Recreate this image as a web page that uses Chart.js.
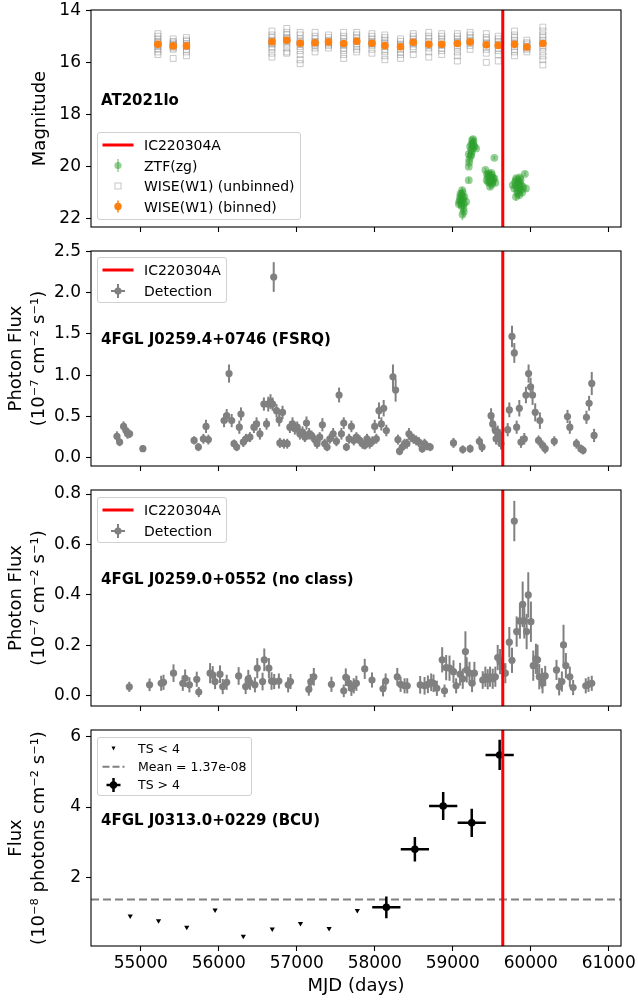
<!DOCTYPE html>
<html>
<head>
<meta charset="utf-8">
<title>AT2021lo and Fermi sources around IC220304A</title>
<script src="https://cdn.jsdelivr.net/npm/chart.js@4.4.1/dist/chart.umd.min.js"></script>
<style>
  html, body { margin: 0; padding: 0; background: #fff; }
  #page { position: relative; width: 638px; height: 1003px; overflow: hidden; font-family: "DejaVu Sans", sans-serif; color: #000; }
  #page canvas { position: absolute; left: 0; }
  .tag { position: absolute; left: 101px; font-size: 15px; font-weight: bold; line-height: 18px; white-space: nowrap; }
  .legend { position: absolute; left: 97px; background: rgba(255,255,255,0.8); border: 1px solid #d0d0d0; border-radius: 3px; box-sizing: border-box; }
  .legend .row { position: absolute; left: 46px; height: 16px; line-height: 16px; font-size: 14px; white-space: nowrap; }
  .legend svg { position: absolute; left: 0; overflow: visible; }
  .legend.small .row { left: 40px; height: 14px; line-height: 14px; font-size: 12.5px; }
</style>
</head>
<body>
<div id="page">
  <canvas id="c1" width="638" height="240" style="top:0"></canvas>
  <canvas id="c2" width="638" height="240" style="top:240px"></canvas>
  <canvas id="c3" width="638" height="240" style="top:480px"></canvas>
  <canvas id="c4" width="638" height="283" style="top:720px"></canvas>

  <div class="tag" style="top:91px">AT2021lo</div>
  <div class="tag" style="top:330px">4FGL J0259.4+0746 (FSRQ)</div>
  <div class="tag" style="top:570px">4FGL J0259.0+0552 (no class)</div>
  <div class="tag" style="top:811px">4FGL J0313.0+0229 (BCU)</div>

  <div class="legend" style="top:132px;width:204px;height:88px">
    <svg width="40" height="88">
      <line x1="4.5" y1="12" x2="35.5" y2="12" stroke="#ff0000" stroke-width="3"/>
      <line x1="20" y1="26" x2="20" y2="39" stroke="rgba(44,160,44,0.5)" stroke-width="1.5"/>
      <circle cx="20" cy="32.5" r="3.6" fill="rgba(44,160,44,0.5)"/>
      <rect x="17" y="50" width="6" height="6" fill="none" stroke="rgba(128,128,128,0.45)"/>
      <line x1="20" y1="67.5" x2="20" y2="79.5" stroke="#ff7f0e" stroke-width="1.5"/>
      <circle cx="20" cy="73.5" r="3.7" fill="#ff7f0e"/>
    </svg>
    <div class="row" style="top:4px">IC220304A</div>
    <div class="row" style="top:24.5px">ZTF(zg)</div>
    <div class="row" style="top:45px">WISE(W1) (unbinned)</div>
    <div class="row" style="top:65.5px">WISE(W1) (binned)</div>
  </div>

  <div class="legend" style="top:257px;width:130px;height:46px">
    <svg width="40" height="46">
      <line x1="4.5" y1="12" x2="35.5" y2="12" stroke="#ff0000" stroke-width="3"/>
      <line x1="20" y1="26" x2="20" y2="40" stroke="#808080" stroke-width="2"/>
      <line x1="13" y1="33" x2="27" y2="33" stroke="#808080" stroke-width="2"/>
      <circle cx="20" cy="33" r="3.6" fill="#808080"/>
    </svg>
    <div class="row" style="top:4px">IC220304A</div>
    <div class="row" style="top:25px">Detection</div>
  </div>

  <div class="legend" style="top:497px;width:130px;height:46px">
    <svg width="40" height="46">
      <line x1="4.5" y1="12" x2="35.5" y2="12" stroke="#ff0000" stroke-width="3"/>
      <line x1="20" y1="26" x2="20" y2="40" stroke="#808080" stroke-width="2"/>
      <line x1="13" y1="33" x2="27" y2="33" stroke="#808080" stroke-width="2"/>
      <circle cx="20" cy="33" r="3.6" fill="#808080"/>
    </svg>
    <div class="row" style="top:4px">IC220304A</div>
    <div class="row" style="top:25px">Detection</div>
  </div>

  <div class="legend small" style="top:737px;width:155px;height:59px">
    <svg width="40" height="59">
      <polygon points="13.5,8.5 17.5,8.5 15.5,12.5" fill="#000"/>
      <line x1="4.5" y1="28.7" x2="26.5" y2="28.7" stroke="#808080" stroke-width="2" stroke-dasharray="7,3"/>
      <line x1="15.5" y1="40" x2="15.5" y2="54" stroke="#000" stroke-width="2.5"/>
      <line x1="8.5" y1="47" x2="22.5" y2="47" stroke="#000" stroke-width="2.5"/>
      <circle cx="15.5" cy="47" r="3.7" fill="#000"/>
    </svg>
    <div class="row" style="top:3.7px">TS &lt; 4</div>
    <div class="row" style="top:21.7px">Mean = 1.37e-08</div>
    <div class="row" style="top:40px">TS &gt; 4</div>
  </div>
</div>

<script>
const FONT = "'DejaVu Sans', sans-serif";

// shared time axis
const X_MIN = 54362;
const X_MAX = 61158;
const X_TICKS = [55000, 56000, 57000, 58000, 59000, 60000, 61000];
const IC_MJD = 59642; // IC220304A

// panel 1: AT2021lo optical / IR
const Y1_MIN = 13.99, Y1_MAX = 22.33;
const Y1_TICKS = [14, 16, 18, 20, 22];

const ZTF_MJD = [59121, 59095, 59129, 59108, 59078, 59138, 59150, 59121, 59142, 59095, 59172,
  59100, 59115, 59132, 59085, 59145, 59125, 59112,
  59206, 59206, 59214, 59206, 59236, 59223, 59257, 59278, 59249, 59266, 59300, 59236,
  59210, 59240, 59255, 59270, 59245, 59230, 59262,
  59534,
  59419, 59462, 59492, 59513, 59470, 59436, 59534, 59547, 59479, 59504, 59449,
  59440, 59455, 59485, 59500, 59520, 59465, 59495, 59510,
  59811, 59841, 59875, 59790, 59833, 59854, 59897, 59939, 59926, 59862, 59811, 59769,
  59800, 59820, 59845, 59860, 59880, 59830, 59815, 59870, 59890];
const ZTF_MAG = [21.29, 21.17, 21.01, 21.42, 21.45, 21.62, 21.17, 20.91, 21.74, 21.29, 21.36,
  21.05, 21.50, 21.20, 21.35, 21.45, 21.85, 21.10,
  20.53, 20.01, 19.73, 19.53, 19.37, 19.24, 19.12, 19.24, 18.99, 19.05, 19.31, 19.56,
  19.85, 19.15, 19.30, 19.20, 19.45, 19.60, 18.95,
  19.67,
  20.14, 20.27, 20.40, 20.53, 20.63, 20.53, 20.46, 20.63, 20.78, 20.33, 20.40,
  20.30, 20.60, 20.55, 20.70, 20.45, 20.35, 20.25, 20.60,
  20.53, 20.63, 20.72, 20.85, 20.94, 21.10, 20.78, 20.85, 20.29, 20.42, 21.17, 20.72,
  20.60, 20.75, 20.85, 20.60, 20.90, 21.05, 20.45, 20.50, 21.00];
const ZTF_ERR = [0.15, 0.14, 0.12, 0.18, 0.18, 0.20, 0.14, 0.12, 0.22, 0.15, 0.16,
  0.13, 0.18, 0.14, 0.16, 0.18, 0.22, 0.13,
  0.10, 0.08, 0.07, 0.07, 0.06, 0.06, 0.06, 0.06, 0.05, 0.06, 0.06, 0.07,
  0.08, 0.06, 0.06, 0.06, 0.07, 0.07, 0.05,
  0.07,
  0.08, 0.08, 0.09, 0.10, 0.10, 0.10, 0.09, 0.10, 0.11, 0.09, 0.09,
  0.08, 0.10, 0.10, 0.11, 0.09, 0.09, 0.08, 0.10,
  0.10, 0.10, 0.11, 0.12, 0.13, 0.15, 0.11, 0.12, 0.08, 0.09, 0.15, 0.11,
  0.10, 0.11, 0.12, 0.10, 0.13, 0.14, 0.09, 0.10, 0.14];

const WISE_MJD = [55220, 55416, 55586, 56682, 56873, 57044, 57235, 57407, 57602, 57769, 57964,
  58130, 58331, 58494, 58693, 58859, 59060, 59223, 59431, 59584, 59793, 59951, 60156];
const WISE_BIN = [15.31, 15.37, 15.37, 15.21, 15.15, 15.27, 15.25, 15.22, 15.28, 15.19, 15.27,
  15.36, 15.40, 15.23, 15.31, 15.31, 15.28, 15.22, 15.33, 15.35, 15.31, 15.41, 15.28];
const WISE_BIN_ERR = [0.04, 0.04, 0.04, 0.03, 0.03, 0.04, 0.03, 0.03, 0.04, 0.03, 0.03,
  0.04, 0.04, 0.03, 0.04, 0.03, 0.04, 0.03, 0.04, 0.04, 0.04, 0.03, 0.05];
const WISE_UNBIN = [
  [14.9, 15.0, 15.1, 15.2, 15.25, 15.3, 15.35, 15.4, 15.5, 15.6, 15.7],
  [15.1, 15.2, 15.25, 15.3, 15.35, 15.4, 15.45, 15.5, 15.85],
  [15.05, 15.15, 15.2, 15.3, 15.35, 15.4, 15.5, 15.6, 15.75],
  [14.8, 14.95, 15.05, 15.15, 15.2, 15.25, 15.3, 15.4, 15.5, 15.65, 15.8],
  [14.7, 14.85, 14.95, 15.05, 15.1, 15.15, 15.2, 15.3, 15.45, 15.6, 15.65],
  [14.85, 14.95, 15.1, 15.2, 15.25, 15.3, 15.4, 15.55, 15.7, 15.9, 16.05],
  [14.85, 15.0, 15.1, 15.2, 15.25, 15.3, 15.35, 15.45, 15.6],
  [14.95, 15.05, 15.15, 15.2, 15.25, 15.3, 15.35, 15.45],
  [14.85, 15.0, 15.1, 15.2, 15.3, 15.35, 15.45, 15.55, 15.7, 15.85],
  [14.85, 14.95, 15.05, 15.15, 15.2, 15.3, 15.4, 15.5, 15.6],
  [14.9, 15.0, 15.1, 15.2, 15.25, 15.3, 15.35, 15.5, 15.65],
  [14.95, 15.05, 15.15, 15.25, 15.3, 15.4, 15.5, 15.6, 15.75, 15.9],
  [15.1, 15.2, 15.3, 15.35, 15.4, 15.5, 15.6, 15.7, 15.85],
  [14.9, 15.0, 15.1, 15.2, 15.25, 15.3, 15.4, 15.5, 15.7],
  [14.85, 15.0, 15.1, 15.2, 15.3, 15.35, 15.45, 15.6, 15.8],
  [14.9, 15.0, 15.1, 15.2, 15.3, 15.35, 15.45, 15.55, 15.7],
  [14.9, 15.0, 15.1, 15.2, 15.25, 15.35, 15.45, 15.6, 15.75, 15.95],
  [14.85, 14.95, 15.05, 15.15, 15.2, 15.25, 15.35, 15.5],
  [14.9, 15.05, 15.15, 15.25, 15.3, 15.4, 15.5, 15.65, 16.0],
  [15.0, 15.1, 15.2, 15.3, 15.35, 15.45, 15.55, 15.7, 15.95],
  [14.8, 14.95, 15.05, 15.15, 15.25, 15.3, 15.4, 15.5, 15.6, 15.75],
  [15.15, 15.25, 15.3, 15.4, 15.45, 15.5, 15.6],
  [14.65, 14.8, 14.95, 15.05, 15.15, 15.25, 15.35, 15.45, 15.6, 15.75, 15.9, 16.1],
];

// panel 2: 4FGL J0259.4+0746 (FSRQ), photon flux in 1e-7 cm^-2 s^-1
const Y2_MIN = -0.1, Y2_MAX = 2.505;
const Y2_TICKS = [0, 0.5, 1.0, 1.5, 2.0, 2.5];
const FSRQ_MJD = [54695, 54729, 54780, 54810, 54831, 54857, 55027, 55684, 55739, 55803,
  55837, 55867, 56068, 56102, 56132, 56166, 56196, 56230, 56264, 56285,
  56315, 56349, 56400, 56451, 56485, 56528, 56579, 56613, 56635, 56664,
  56690, 56705, 56741, 56775, 56784, 56818, 56835, 56878, 56912, 56946,
  56976, 57006, 57040, 57074, 57104, 57125, 57159, 57189, 57231, 57261,
  57295, 57329, 57359, 57389, 57424, 57467, 57509, 57543, 57573, 57603,
  57637, 57671, 57701, 57731, 57765, 57808, 57842, 57872, 57901, 57936,
  57970, 58000, 58021, 58055, 58085, 58115, 58149, 58234, 58268, 58298,
  58319, 58353, 58383, 58413, 58439, 58468, 58498, 58532, 58566, 58609,
  58639, 58669, 58711, 59010, 59129, 59223, 59342, 59376, 59492, 59513,
  59547, 59556, 59577, 59598, 59619, 59705, 59726, 59760, 59790, 59820,
  59854, 59875, 59918, 59939, 59973, 59999, 60024, 60058, 60101, 60118,
  60152, 60186, 60302, 60472, 60502, 60587, 60643, 60672, 60715, 60749,
  60783, 60813];
const FSRQ_FLUX = [0.26, 0.19, 0.38, 0.33, 0.29, 0.29, 0.11, 0.21, 0.13, 0.23,
  0.38, 0.22, 0.45, 0.51, 1.02, 0.45, 0.17, 0.13, 0.37, 0.53,
  0.19, 0.23, 0.25, 0.37, 0.41, 0.29, 0.65, 0.41, 0.65, 0.68,
  0.65, 2.19, 0.57, 0.46, 0.18, 0.55, 0.17, 0.17, 0.37, 0.41,
  0.35, 0.37, 0.29, 0.31, 0.25, 0.42, 0.29, 0.27, 0.22, 0.17,
  0.25, 0.40, 0.17, 0.13, 0.23, 0.29, 0.20, 0.76, 0.29, 0.42,
  0.13, 0.23, 0.38, 0.21, 0.25, 0.21, 0.17, 0.15, 0.23, 0.17,
  0.20, 0.38, 0.23, 0.57, 0.41, 0.60, 0.33, 0.98, 0.82, 0.22,
  0.08, 0.13, 0.17, 0.17, 0.29, 0.25, 0.23, 0.21, 0.19, 0.11,
  0.17, 0.14, 0.13, 0.18, 0.10, 0.11, 0.20, 0.13, 0.51, 0.41,
  0.33, 0.23, 0.31, 0.27, 0.17, 0.34, 0.58, 1.47, 1.27, 0.37,
  0.60, 0.19, 0.23, 0.76, 1.02, 0.86, 0.76, 0.55, 0.21, 0.45,
  0.15, 0.11, 0.20, 0.50, 0.37, 0.17, 0.11, 0.09, 0.49, 0.66,
  0.90, 0.27];
const FSRQ_ERR = [0.06, 0.05, 0.06, 0.06, 0.06, 0.05, 0.04, 0.05, 0.05, 0.06,
  0.08, 0.06, 0.08, 0.08, 0.11, 0.08, 0.05, 0.05, 0.08, 0.08,
  0.06, 0.06, 0.06, 0.07, 0.08, 0.07, 0.08, 0.07, 0.09, 0.09,
  0.08, 0.18, 0.08, 0.08, 0.06, 0.08, 0.06, 0.06, 0.07, 0.08,
  0.07, 0.07, 0.07, 0.07, 0.06, 0.08, 0.07, 0.06, 0.06, 0.06,
  0.06, 0.08, 0.06, 0.05, 0.06, 0.07, 0.06, 0.09, 0.07, 0.07,
  0.05, 0.06, 0.07, 0.06, 0.06, 0.06, 0.06, 0.05, 0.06, 0.06,
  0.06, 0.08, 0.06, 0.10, 0.08, 0.10, 0.07, 0.15, 0.14, 0.06,
  0.05, 0.05, 0.06, 0.06, 0.07, 0.06, 0.06, 0.06, 0.06, 0.05,
  0.06, 0.05, 0.05, 0.06, 0.05, 0.05, 0.06, 0.06, 0.09, 0.08,
  0.08, 0.07, 0.08, 0.08, 0.07, 0.08, 0.09, 0.13, 0.12, 0.08,
  0.10, 0.07, 0.07, 0.10, 0.11, 0.11, 0.12, 0.11, 0.06, 0.10,
  0.06, 0.06, 0.06, 0.08, 0.08, 0.06, 0.05, 0.05, 0.08, 0.09,
  0.14, 0.08];

// panel 3: 4FGL J0259.0+0552 (no class)
const Y3_MIN = -0.04, Y3_MAX = 0.816;
const Y3_TICKS = [0, 0.2, 0.4, 0.6, 0.8];
const NC_MJD = [54853, 55113, 55262, 55292, 55420, 55539, 55569, 55624, 55718, 55744,
  55889, 55923, 55953, 56016, 56051, 56102, 56255, 56345, 56379, 56400,
  56464, 56494, 56562, 56584, 56643, 56677, 56711, 56771, 56890, 56920,
  57155, 57180, 57219, 57445, 57603, 57629, 57671, 57701, 57731, 57765,
  57872, 57965, 58106, 58140, 58289, 58332, 58383, 58417, 58583, 58639,
  58682, 58724, 58754, 58797, 58865, 58895, 58916, 58959, 59010, 59044,
  59095, 59129, 59163, 59180, 59215, 59248, 59278, 59385, 59419, 59449,
  59479, 59513, 59547, 59577, 59607, 59641, 59675, 59726, 59760, 59790,
  59820, 59862, 59897, 59918, 59948, 59969, 60003, 60033, 60067, 60088,
  60110, 60144, 60152, 60186, 60331, 60365, 60400, 60421, 60451, 60502,
  60544, 60706, 60741, 60783];
const NC_FLUX = [0.036, 0.044, 0.050, 0.054, 0.090, 0.050, 0.070, 0.044, 0.066, 0.015,
  0.090, 0.083, 0.057, 0.086, 0.037, 0.054, 0.079, 0.037, 0.068, 0.054,
  0.044, 0.110, 0.057, 0.143, 0.110, 0.059, 0.057, 0.059, 0.044, 0.057,
  0.026, 0.057, 0.076, 0.046, 0.020, 0.074, 0.050, 0.030, 0.040, 0.050,
  0.107, 0.063, 0.028, 0.059, 0.076, 0.046, 0.040, 0.040, 0.044, 0.040,
  0.046, 0.054, 0.050, 0.030, 0.143, 0.020, 0.112, 0.110, 0.096, 0.040,
  0.086, 0.068, 0.176, 0.103, 0.090, 0.050, 0.090, 0.063, 0.076, 0.066,
  0.076, 0.068, 0.076, 0.152, 0.136, 0.116, 0.090, 0.213, 0.141, 0.693,
  0.255, 0.297, 0.363, 0.297, 0.255, 0.400, 0.294, 0.120, 0.147, 0.143,
  0.076, 0.070, 0.050, 0.079, 0.103, 0.037, 0.057, 0.202, 0.120, 0.076,
  0.033, 0.040, 0.046, 0.050];
const NC_ERR = [0.02, 0.025, 0.03, 0.03, 0.035, 0.03, 0.035, 0.03, 0.03, 0.02,
  0.04, 0.035, 0.03, 0.035, 0.03, 0.03, 0.035, 0.03, 0.035, 0.03,
  0.03, 0.04, 0.035, 0.045, 0.04, 0.035, 0.03, 0.03, 0.03, 0.03,
  0.025, 0.03, 0.035, 0.03, 0.025, 0.035, 0.03, 0.03, 0.03, 0.03,
  0.04, 0.03, 0.03, 0.03, 0.035, 0.03, 0.03, 0.03, 0.035, 0.035,
  0.035, 0.035, 0.035, 0.03, 0.05, 0.025, 0.05, 0.05, 0.045, 0.03,
  0.045, 0.04, 0.08, 0.05, 0.045, 0.035, 0.045, 0.035, 0.04, 0.04,
  0.04, 0.04, 0.04, 0.05, 0.05, 0.05, 0.04, 0.06, 0.05, 0.08,
  0.06, 0.07, 0.09, 0.07, 0.07, 0.09, 0.08, 0.06, 0.06, 0.06,
  0.05, 0.04, 0.04, 0.04, 0.04, 0.035, 0.04, 0.08, 0.05, 0.04,
  0.03, 0.03, 0.03, 0.03];

// panel 4: 4FGL J0313.0+0229 (BCU), yearly bins, 1e-8 photons cm^-2 s^-1
const Y4_MIN = 0.05, Y4_MAX = 6.19;
const Y4_TICKS = [2, 4, 6];
const MEAN_FLUX = 1.37;
const UL_MJD = [54865, 55228, 55590, 55953, 56315, 56686, 57048, 57415, 57777];
const UL_FLUX = [0.90, 0.77, 0.58, 1.07, 0.33, 0.53, 0.69, 0.55, 1.06];
const DET_MJD = [58149, 58515, 58878, 59244, 59602];
const DET_FLUX = [1.15, 2.80, 4.03, 3.55, 5.48];
const DET_ERR = [0.31, 0.35, 0.40, 0.40, 0.43];
const DET_HALF_BIN = [181, 181, 181, 181, 181];

const pts = (xs, ys) => xs.map((x, i) => ({ x, y: ys[i] }));

// draws x/y error bars for datasets carrying xErr / yErr, just under their markers
const errorBars = {
  id: 'errorBars',
  beforeDatasetDraw(chart, args) {
    const ds = chart.data.datasets[args.index];
    if (!ds.yErr && !ds.xErr) return;
    const { ctx, chartArea: a } = chart;
    const sx = chart.scales.x, sy = chart.scales.y;
    ctx.save();
    ctx.beginPath();
    ctx.rect(a.left, a.top, a.right - a.left, a.bottom - a.top);
    ctx.clip();
    ctx.strokeStyle = ds.errColor;
    ctx.lineWidth = ds.errWidth;
    ds.data.forEach((p, i) => {
      const px = sx.getPixelForValue(p.x), py = sy.getPixelForValue(p.y);
      ctx.beginPath();
      if (ds.yErr) {
        ctx.moveTo(px, sy.getPixelForValue(p.y - ds.yErr[i]));
        ctx.lineTo(px, sy.getPixelForValue(p.y + ds.yErr[i]));
      }
      if (ds.xErr) {
        ctx.moveTo(sx.getPixelForValue(p.x - ds.xErr[i]), py);
        ctx.lineTo(sx.getPixelForValue(p.x + ds.xErr[i]), py);
      }
      ctx.stroke();
    });
    ctx.restore();
  }
};

// matplotlib-like box around each axes
const frame = {
  id: 'frame',
  afterDatasetsDraw(chart) {
    const { ctx, chartArea: a } = chart;
    ctx.save();
    ctx.strokeStyle = '#000';
    ctx.lineWidth = 1.1;
    ctx.strokeRect(a.left, a.top, a.right - a.left, a.bottom - a.top);
    ctx.restore();
  }
};

function axisX(showLabels, height) {
  return {
    type: 'linear', min: X_MIN, max: X_MAX,
    afterBuildTicks: (s) => { s.ticks = X_TICKS.map((v) => ({ value: v })); },
    afterFit: (s) => { s.height = height; s.paddingLeft = 0; s.paddingRight = 0; },
    grid: { drawOnChartArea: false, drawTicks: true, tickLength: 5, tickWidth: 1.1, tickColor: '#000' },
    border: { display: false },
    ticks: { display: showLabels, padding: 2, color: '#000', font: { family: FONT, size: 17 }, maxRotation: 0, autoSkip: false, callback: (v) => String(v) },
    title: { display: showLabels, text: 'MJD (days)', color: '#000', font: { family: FONT, size: 18 }, padding: { top: 0, bottom: 6 } },
  };
}

function axisY(min, max, ticks, fmt, title, padTop, reverse) {
  return {
    type: 'linear', min, max, reverse: !!reverse,
    afterBuildTicks: (s) => { s.ticks = ticks.map((v) => ({ value: v })); },
    afterFit: (s) => { s.width = 91; s.paddingTop = 0; s.paddingBottom = 0; },
    grid: { drawOnChartArea: false, drawTicks: true, tickLength: 5, tickWidth: 1.1, tickColor: '#000' },
    border: { display: false },
    ticks: { padding: 5, color: '#000', font: { family: FONT, size: 17 }, callback: fmt },
    title: { display: true, text: title, color: '#000', font: { family: FONT, size: 18, lineHeight: 1.28 }, padding: { top: padTop, bottom: 0 } },
  };
}

function options(padTop, x, y) {
  return {
    responsive: false, animation: false, devicePixelRatio: 1, events: [],
    layout: { padding: { top: padTop, right: 17, bottom: 0, left: 0 } },
    plugins: { legend: { display: false }, tooltip: { enabled: false } },
    scales: { x, y },
  };
}

const icLine = (lo, hi) => ({
  data: [{ x: IC_MJD, y: lo }, { x: IC_MJD, y: hi }],
  showLine: true, borderColor: '#ff0000', borderWidth: 3, pointRadius: 0,
});

const detections = (xs, ys, errs) => ({
  data: pts(xs, ys), yErr: errs, errColor: '#808080', errWidth: 2,
  pointRadius: 3.6, pointBackgroundColor: '#808080', pointBorderWidth: 0,
});

const fixed = (v) => v.toFixed(1);
const plain = (v) => String(v);

// ---- panel 1
const wiseUnbinned = [];
WISE_MJD.forEach((m, i) => WISE_UNBIN[i].forEach((mag) => wiseUnbinned.push({ x: m, y: mag })));

new Chart(document.getElementById('c1'), {
  type: 'scatter',
  data: {
    datasets: [
      icLine(Y1_MIN, Y1_MAX),
      { data: pts(WISE_MJD, WISE_BIN), yErr: WISE_BIN_ERR, errColor: '#ff7f0e', errWidth: 1.5,
        pointRadius: 3.8, pointBackgroundColor: '#ff7f0e', pointBorderWidth: 0 },
      { data: wiseUnbinned, pointStyle: 'rect', pointRadius: 4.2,
        pointBackgroundColor: 'rgba(0,0,0,0)', pointBorderColor: 'rgba(128,128,128,0.42)', pointBorderWidth: 1 },
      { data: pts(ZTF_MJD, ZTF_MAG), yErr: ZTF_ERR, errColor: 'rgba(44,160,44,0.5)', errWidth: 1.5,
        pointRadius: 3.9, pointBackgroundColor: 'rgba(44,160,44,0.5)', pointBorderWidth: 0 },
    ],
  },
  options: options(10, axisX(false, 13), axisY(Y1_MIN, Y1_MAX, Y1_TICKS, plain, 'Magnitude', 29, true)),
  plugins: [errorBars, frame],
});

// ---- panel 2
new Chart(document.getElementById('c2'), {
  type: 'scatter',
  data: { datasets: [icLine(Y2_MIN, Y2_MAX), detections(FSRQ_MJD, FSRQ_FLUX, FSRQ_ERR)] },
  options: options(11, axisX(false, 14),
    axisY(Y2_MIN, Y2_MAX, Y2_TICKS, fixed, ['Photon Flux', '(10⁻⁷ cm⁻² s⁻¹)'], 4.5)),
  plugins: [errorBars, frame],
});

// ---- panel 3
new Chart(document.getElementById('c3'), {
  type: 'scatter',
  data: { datasets: [icLine(Y3_MIN, Y3_MAX), detections(NC_MJD, NC_FLUX, NC_ERR)] },
  options: options(10, axisX(false, 14),
    axisY(Y3_MIN, Y3_MAX, Y3_TICKS, fixed, ['Photon Flux', '(10⁻⁷ cm⁻² s⁻¹)'], 4.5)),
  plugins: [errorBars, frame],
});

// ---- panel 4
new Chart(document.getElementById('c4'), {
  type: 'scatter',
  data: {
    datasets: [
      icLine(Y4_MIN, Y4_MAX),
      { data: pts(DET_MJD, DET_FLUX), yErr: DET_ERR, xErr: DET_HALF_BIN, errColor: '#000', errWidth: 2.5,
        pointRadius: 3.8, pointBackgroundColor: '#000', pointBorderWidth: 0 },
      { data: [{ x: X_MIN, y: MEAN_FLUX }, { x: X_MAX, y: MEAN_FLUX }], showLine: true,
        borderColor: '#808080', borderWidth: 2, borderDash: [8, 4], pointRadius: 0 },
      { data: pts(UL_MJD, UL_FLUX), pointStyle: 'triangle', pointRotation: 180, pointRadius: 3,
        pointBackgroundColor: '#000', pointBorderWidth: 0 },
    ],
  },
  options: options(10, axisX(true, 57),
    axisY(Y4_MIN, Y4_MAX, Y4_TICKS, plain, ['Flux', '(10⁻⁸ photons cm⁻² s⁻¹)'], 4.5)),
  plugins: [errorBars, frame],
});
</script>
</body>
</html>
